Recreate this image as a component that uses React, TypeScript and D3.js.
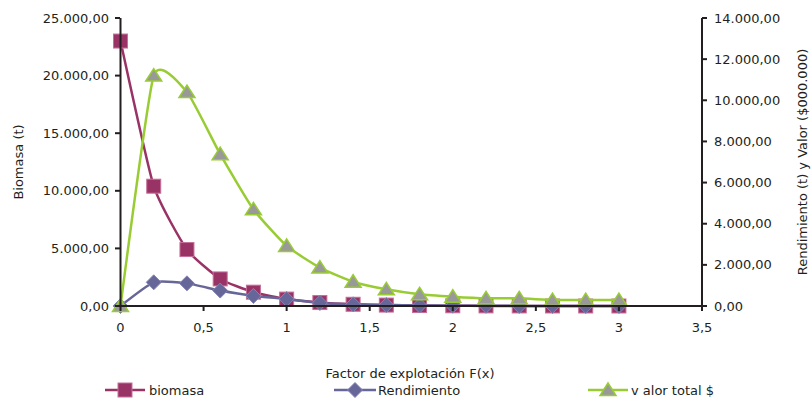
import React from "react";
import * as d3 from "d3";

const xValues = [0, 0.2, 0.4, 0.6, 0.8, 1.0, 1.2, 1.4, 1.6, 1.8, 2.0, 2.2, 2.4, 2.6, 2.8, 3.0];
const biomasa = [23000, 10400, 4900, 2350, 1200, 600, 300, 150, 80, 40, 20, 10, 5, 3, 2, 1];
const rendimiento = [0, 1150, 1100, 750, 490, 340, 150, 80, 45, 25, 15, 10, 5, 3, 2, 1];
const valorTotal = [0, 11200, 10400, 7380, 4700, 2920, 1870, 1180, 810, 570, 455, 375, 375, 290, 290, 290];

const leftTicks = [0, 5000, 10000, 15000, 20000, 25000];
const rightTicks = [0, 2000, 4000, 6000, 8000, 10000, 12000, 14000];
const xTicks = [0, 0.5, 1, 1.5, 2, 2.5, 3, 3.5];

const seriesNames = ["biomasa", "Rendimiento", "v alor total $"];

const W = 811;
const H = 398;
const FONT = "'DejaVu Sans', sans-serif";
const FS = 13;
const C_BIO = "#993366";
const C_REN = "#666699";
const C_VAL = "#99CC33";
const AXIS = "#231F20";

const fmt = (v: number) => {
  const s = d3.format(",.2f")(v);
  return s.replace(/,/g, "#").replace(/\./g, ",").replace(/#/g, ".");
};
const fmtX = (v: number) => String(v).replace(".", ",");

export default function App() {
  const x = d3.scaleLinear().domain([0, 3.5]).range([120.5, 702]);
  const yL = d3.scaleLinear().domain([0, 25000]).range([306, 18]);
  const yR = d3.scaleLinear().domain([0, 14000]).range([306, 18]);

  const curve = d3.curveCardinal.tension(0.5);
  const lineL = d3
    .line<number>()
    .x((_, i) => x(xValues[i]))
    .y((d) => yL(d))
    .curve(curve);
  const lineR = d3
    .line<number>()
    .x((_, i) => x(xValues[i]))
    .y((d) => yR(d))
    .curve(curve);

  const square = (cx: number, cy: number, k: string) => (
    <rect key={k} x={cx - 7} y={cy - 7} width={14} height={14} fill={C_BIO} stroke="#c66f9a" strokeWidth={1} />
  );
  const diamond = (cx: number, cy: number, k: string) => (
    <path key={k} d={`M${cx},${cy - 7.5}L${cx + 7.5},${cy}L${cx},${cy + 7.5}L${cx - 7.5},${cy}Z`} fill={C_REN} stroke="#8585b5" strokeWidth={1} />
  );
  const triangle = (cx: number, cy: number, k: string) => (
    <path key={k} d={`M${cx},${cy - 7}L${cx + 8},${cy + 5.5}L${cx - 8},${cy + 5.5}Z`} fill="#999999" stroke={C_VAL} strokeWidth={1.5} />
  );

  return (
    <svg width={W} height={H} style={{ position: "fixed", left: 0, top: 0, background: "#fff" }} fontFamily={FONT}>
      {/* series */}
      <path d={lineL(biomasa) || ""} fill="none" stroke={C_BIO} strokeWidth={2.5} />
      {biomasa.map((v, i) => square(x(xValues[i]), yL(v), "b" + i))}
      <path d={lineR(rendimiento) || ""} fill="none" stroke={C_REN} strokeWidth={2.5} />
      {rendimiento.map((v, i) => diamond(x(xValues[i]), yR(v), "r" + i))}
      <path d={lineR(valorTotal) || ""} fill="none" stroke={C_VAL} strokeWidth={2.5} />
      {valorTotal.map((v, i) => triangle(x(xValues[i]), yR(v), "v" + i))}

      {/* axes */}
      <line x1={120.5} x2={120.5} y1={18} y2={307} stroke={AXIS} strokeWidth={2} />
      <line x1={702} x2={702} y1={18} y2={307} stroke={AXIS} strokeWidth={2} />
      <line x1={120} x2={703} y1={306} y2={306} stroke={AXIS} strokeWidth={2} />
      {leftTicks.map((t) => (
        <g key={"l" + t}>
          <line x1={115} x2={120} y1={yL(t)} y2={yL(t)} stroke={AXIS} strokeWidth={2} />
          <text x={109} y={yL(t)} dy="0.35em" textAnchor="end" fontSize={FS} fill="#231F20">
            {fmt(t)}
          </text>
        </g>
      ))}
      {rightTicks.map((t) => (
        <g key={"r" + t}>
          <line x1={702} x2={707} y1={yR(t)} y2={yR(t)} stroke={AXIS} strokeWidth={2} />
          <text x={714} y={yR(t)} dy="0.35em" textAnchor="start" fontSize={FS} fill="#231F20">
            {fmt(t)}
          </text>
        </g>
      ))}
      {xTicks.map((t) => (
        <g key={"x" + t}>
          <line x1={x(t)} x2={x(t)} y1={306} y2={311} stroke={AXIS} strokeWidth={2} />
          <text x={x(t)} y={332} textAnchor="middle" fontSize={FS} fill="#231F20">
            {fmtX(t)}
          </text>
        </g>
      ))}

      {/* axis titles */}
      <text x={410} y={378} textAnchor="middle" fontSize={FS} fill="#231F20">
        Factor de explotación F(x)
      </text>
      <text transform="translate(23,162) rotate(-90)" textAnchor="middle" fontSize={FS} fill="#231F20">
        Biomasa (t)
      </text>
      <text transform="translate(807,162) rotate(-90)" textAnchor="middle" fontSize={FS} fill="#231F20">
        Rendimiento (t) y Valor ($000.000)
      </text>

      {/* legend */}
      <line x1={105} x2={145} y1={390} y2={390} stroke={C_BIO} strokeWidth={2.5} />
      {square(125, 390, "lb")}
      <text x={149} y={390} dy="0.35em" fontSize={FS} fill="#231F20">{seriesNames[0]}</text>
      <line x1={334} x2={376} y1={390} y2={390} stroke={C_REN} strokeWidth={2.5} />
      {diamond(355, 390, "lr")}
      <text x={378} y={390} dy="0.35em" fontSize={FS} fill="#231F20">{seriesNames[1]}</text>
      <line x1={588} x2={628} y1={390} y2={390} stroke={C_VAL} strokeWidth={2.5} />
      {triangle(608, 390, "lv")}
      <text x={631} y={390} dy="0.35em" fontSize={FS} fill="#231F20">{seriesNames[2]}</text>
    </svg>
  );
}
